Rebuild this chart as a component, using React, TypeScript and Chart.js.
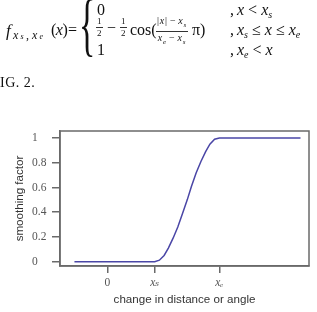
import React, { useEffect, useRef } from "react";
import { Chart, registerables } from "chart.js";

Chart.register(...registerables);

// ---- data ----
const curveX = [-0.7, 1.0, 1.1, 1.2, 1.29, 1.39, 1.49, 1.59, 1.69, 1.78, 1.88, 1.98, 2.08, 2.17, 2.27, 2.37, 4.09];
const curveY = [0, 0, 0.012, 0.05, 0.11, 0.19, 0.28, 0.39, 0.5, 0.61, 0.72, 0.81, 0.89, 0.95, 0.99, 1, 1];
const xTickValues = [0, 1, 2.37];
const xTickLabels = ["0", "xₛ", "xₑ"];
const yTickValues = [0, 0.2, 0.4, 0.6, 0.8, 1];
const yTickLabels = ["0", "0.2", "0.4", "0.6", "0.8", "1"];
const xAxisTitle = "change in distance or angle";
const yAxisTitle = "smoothing factor";
const caption = "IG. 2.";

const SERIF = "'Liberation Serif', 'DejaVu Serif', serif";
const SANS = "'Liberation Sans', Arial, sans-serif";

const framePlugin = {
  id: "frame",
  afterDraw(chart: any) {
    const { ctx, chartArea } = chart;
    ctx.save();
    ctx.strokeStyle = "#6a6a6a";
    ctx.lineWidth = 1.5;
    ctx.strokeRect(chartArea.left, chartArea.top, chartArea.right - chartArea.left, chartArea.bottom - chartArea.top);
    ctx.restore();
  },
};

function Frac({ num, den, size, left, top, spacing = 0 }: { num: React.ReactNode; den: React.ReactNode; size: number; left: number; top: number; spacing?: number }) {
  return (
    <div
      style={{
        position: "absolute",
        left,
        top,
        display: "flex",
        flexDirection: "column",
        alignItems: "center",
        fontSize: size,
        lineHeight: `${size}px`,
        fontFamily: SERIF,
        color: "#111",
        whiteSpace: "nowrap",
        letterSpacing: spacing ? `${spacing}px` : undefined,
      }}
    >
      <div style={{ borderBottom: "1px solid #333", padding: "0 1px 1px" }}>{num}</div>
      <div style={{ paddingTop: 1 }}>{den}</div>
    </div>
  );
}

const T = (left: number, top: number, size: number, children: React.ReactNode, extra: React.CSSProperties = {}) => (
  <div
    style={{
      position: "absolute",
      left,
      top,
      fontSize: size,
      lineHeight: `${size}px`,
      fontFamily: SERIF,
      whiteSpace: "nowrap",
      color: "#111",
      ...extra,
    }}
  >
    {children}
  </div>
);

const sub = (s: string, size = 10) => (
  <span style={{ fontSize: size, fontStyle: "italic", verticalAlign: "-3px" }}>{s}</span>
);
const rel = (s: string) => <span style={{ margin: "0 4px" }}>{s}</span>;
const bin = (s: string) => <span style={{ margin: "0 2px" }}>{s}</span>;

export default function App() {
  const ref = useRef<HTMLCanvasElement | null>(null);

  useEffect(() => {
    if (!ref.current) return;
    const chart = new Chart(ref.current, {
      type: "line",
      data: {
        datasets: [
          {
            data: curveX.map((x, i) => ({ x, y: curveY[i] })),
            borderColor: "#4a46a6",
            borderWidth: 1.5,
            pointRadius: 0,
            tension: 0,
            fill: false,
          },
        ],
      },
      options: {
        responsive: false,
        animation: false,
        plugins: { legend: { display: false }, tooltip: { enabled: false } },
        layout: { padding: { left: 32, right: 8, top: 131, bottom: 0 } },
        scales: {
          x: {
            type: "linear",
            min: -1.006,
            max: 4.27,
            afterBuildTicks: (s: any) => {
              s.ticks = xTickValues.map((v) => ({ value: v }));
            },
            afterFit: (s: any) => {
              s.height = 46;
            },
            grid: { display: true, drawOnChartArea: false, drawTicks: true, tickLength: 7, color: "#6a6a6a", lineWidth: 1.5 },
            border: { display: true, color: "#6a6a6a", width: 1.5 },
            ticks: {
              autoSkip: false,
              maxRotation: 0,
              padding: 3,
              color: "#555",
              font: (c: any) => ({ family: SERIF, size: 11.5, style: c.index > 0 ? "italic" : "normal" }),
              callback: (v: any) => xTickLabels[xTickValues.indexOf(Number(v))] ?? "",
            },
            title: {
              display: true,
              text: xAxisTitle,
              color: "#333",
              font: { family: SANS, size: 11.6, lineHeight: 1 },
              padding: { top: 0, bottom: 6.2 },
            },
          },
          y: {
            type: "linear",
            min: -0.035,
            max: 1.057,
            afterBuildTicks: (s: any) => {
              s.ticks = yTickValues.map((v) => ({ value: v }));
            },
            afterFit: (s: any) => {
              s.width = 28;
            },
            grid: { display: true, drawOnChartArea: false, drawTicks: true, tickLength: 8, color: "#6a6a6a", lineWidth: 1.5 },
            border: { display: true, color: "#6a6a6a", width: 1.5 },
            ticks: {
              autoSkip: false,
              crossAlign: "far",
              color: "#555",
              font: { family: SERIF, size: 11.5 },
              callback: (v: any) => yTickLabels[yTickValues.indexOf(Number(v))] ?? "",
            },
            title: {
              display: true,
              text: yAxisTitle,
              color: "#333",
              font: { family: SANS, size: 11.6, lineHeight: 1 },
              padding: { top: -17.8, bottom: 0 },
            },
          },
        },
      } as any,
      plugins: [framePlugin],
    });
    return () => chart.destroy();
  }, []);

  const r1 = 1.6;
  const r2 = 21.6;
  const r3 = 41.6;

  return (
    <div style={{ position: "fixed", left: 0, top: 0, width: 317, height: 312, background: "#fff", overflow: "hidden" }}>
      <canvas ref={ref} width={317} height={312} style={{ position: "absolute", left: 0, top: 0, display: "block" }} />
      {/* formula: left-hand side */}
      {T(6, r2, 17, <i>f</i>)}
      {T(13, 28.5, 12, <i>x</i>)}
      {T(20.5, 33, 8, <i>s</i>)}
      {T(26, 28.5, 12, ",")}
      {T(32, 28.5, 12, <i>x</i>)}
      {T(39.5, 33, 8, <i>e</i>)}
      {T(51, r2, 16, <span>(<i>x</i>)</span>, { letterSpacing: "-0.5px" })}
      {T(68, r2, 16, "=")}
      {T(79, -11, 68, "{", { transform: "scale(0.5, 1.03)", transformOrigin: "left top" })}
      {/* cases */}
      {T(97, r1, 16, "0")}
      {T(230, r1, 16, <span>,<span style={{ marginLeft: 3 }}><i>x</i></span>{rel("<")}<i>x</i>{sub("s")}</span>)}
      <Frac num="1" den="2" size={9} left={96} top={17} />
      {T(107, r2 - 2, 16, "−")}
      <Frac num="1" den="2" size={9} left={120} top={17} />
      {T(130, r2, 16, "cos(")}
      <Frac
        num={<span>|<i>x</i>|{bin("−")}<i>x</i>{sub("s", 7)}</span>}
        den={<span><i>x</i>{sub("e", 7)}{bin("−")}<i>x</i>{sub("s", 7)}</span>}
        size={10}
        spacing={0.8}
        left={156}
        top={16}
      />
      {T(192, r2, 16, "π)")}
      {T(230, r2, 16, <span>,<span style={{ marginLeft: 3 }}><i>x</i></span>{sub("s")}{rel("≤")}<i>x</i>{rel("≤")}<i>x</i>{sub("e")}</span>)}
      {T(97, r3, 16, "1")}
      {T(230, r3, 16, <span>,<span style={{ marginLeft: 3 }}><i>x</i></span>{sub("e")}{rel("<")}<i>x</i></span>)}
      {T(0, 76, 14, caption, { letterSpacing: "0.5px" })}
    </div>
  );
}
